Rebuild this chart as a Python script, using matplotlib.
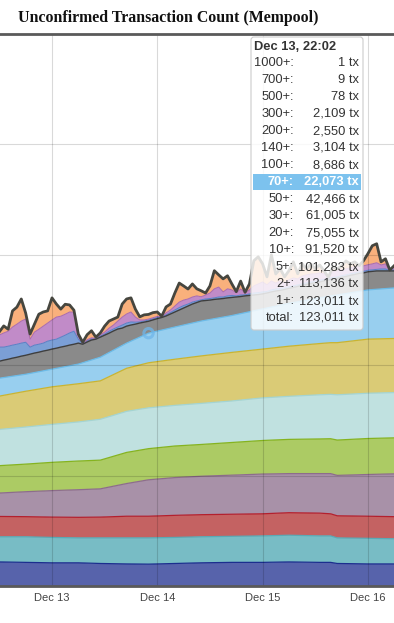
import matplotlib
matplotlib.use('Agg')
import matplotlib.pyplot as plt
from matplotlib.patches import Rectangle, FancyBboxPatch
import numpy as np

# hours since Dec 13 00:00, counts in thousands of tx
hours_slow = [-12, -6, 0, 6, 11, 17, 22, 28, 34, 41, 48, 54, 61, 63.5, 65, 72, 78]
band_1 = [10.9, 10.7, 10.5, 10.5, 10.2, 10.0, 9.9, 10.2, 10.5, 10.7, 10.7, 10.9, 10.7, 10.7, 10.2, 10.0, 10.0]
band_2 = [11.4, 11.6, 11.5, 11.3, 11.6, 11.8, 11.9, 11.8, 11.8, 11.8, 12.0, 12.1, 12.0, 12.0, 11.6, 11.6, 11.4]
band_5 = [9.2, 9.1, 9.2, 9.3, 9.4, 9.8, 9.8, 10.0, 10.0, 10.0, 10.0, 10.2, 10.3, 10.0, 10.0, 10.0, 10.0]
band_10 = [10.6, 11.3, 12.0, 12.5, 12.8, 14.8, 16.5, 17.1, 17.4, 17.7, 18.0, 17.7, 17.9, 18.2, 18.3, 18.9, 19.4]
band_20 = [12.4, 12.5, 12.8, 13.0, 13.0, 14.1, 14.1, 14.3, 14.4, 14.8, 15.2, 15.5, 15.7, 15.8, 16.0, 16.3, 16.3]
band_30 = [16.4, 16.8, 17.2, 17.7, 18.5, 18.6, 18.5, 18.4, 18.6, 18.8, 19.3, 19.5, 20.0, 20.1, 20.5, 20.5, 20.5]
band_50 = [15.1, 16.2, 17.0, 17.3, 17.4, 19.5, 20.4, 20.9, 21.5, 22.0, 22.1, 22.7, 23.2, 23.4, 23.6, 24.5, 24.5]
band_70 = [8.1, 7.7, 8.0, 8.9, 10.7, 11.4, 13.4, 14.6, 15.8, 16.7, 18.2, 19.4, 20.7, 21.2, 21.6, 22.3, 22.9]

lower_bands = [band_1, band_2, band_5, band_10, band_20, band_30, band_50, band_70]
lower_fill = ['#5763ab', '#78bcc5', '#c46262', '#a891a8', '#accb64', '#c0e1e0', '#dacb76', '#98cfef']
lower_line = ['#1b2e8e', '#5aa9b5', '#b3202e', '#8d6d8b', '#85b320', '#a4d4d2', '#c9b431', '#6bbbe8']

hours_fast = list(range(-12, 79))
below_140 = [101.8, 102.3, 102.7, 103.2, 103.6, 104.1, 104.5, 105.0, 105.5, 105.9,
             106.4, 106.8, 107.3, 107.7, 108.2, 108.6, 109.1, 109.5, 110.0, 109.5,
             110.5, 111.4, 111.8, 112.7, 113.6, 114.5, 115.5, 116.4, 116.8, 117.7,
             118.2, 118.6, 119.1, 119.5, 119.9, 120.5, 121.1, 121.6, 122.3, 123.2,
             124.1, 125.0, 125.9, 126.8, 127.7, 128.4, 129.1, 129.3, 129.5, 129.8,
             130.0, 130.2, 130.5, 130.7, 130.9, 131.1, 131.4, 131.6, 131.8, 132.0,
             132.3, 132.7, 133.2, 133.6, 133.9, 134.3, 134.8, 135.2, 135.7, 136.1,
             136.6, 137.0, 137.3, 137.7, 138.2, 138.6, 139.1, 139.3, 139.8, 140.2,
             140.7, 141.1, 141.6, 141.8, 142.3, 142.5, 142.7, 142.7, 142.7, 142.7,
             142.7]
band_140 = [6.4, 5.9, 5.9, 5.9, 5.9, 5.9, 5.9, 3.2, 3.6, 3.6,
            3.6, 4.1, 4.1, 4.1, 4.5, 5.0, 5.5, 5.9, 1.8, 0.2,
            0.5, 0.5, 0.2, 0.5, 0.5, 0.9, 0.9, 0.9, 1.4, 1.4,
            1.4, 0.9, 0.5, 0.5, 0.55, 0.5, 0.5, 0.2, 0.5, 0.7,
            0.9, 1.1, 1.1, 0.9, 0.9, 0.7, 0.5, 0.7, 0.7, 0.7,
            0.9, 0.7, 0.9, 0.9, 0.5, 0.7, 0.5, 0.7, 0.9, 0.9,
            0.9, 0.7, 0.9, 0.9, 0.9, 0.7, 0.7, 0.7, 0.7, 0.7,
            0.7, 0.7, 0.7, 0.7, 0.7, 0.5, 0.7, 0.7, 0.7, 0.7,
            0.7, 0.7, 0.7, 0.7, 0.7, 0.7, 0.7, 0.9, 0.9, 0.1,
            0.5]
band_200 = [5.5, 6.4, 6.8, 8.2, 9.1, 10.0, 10.5, 3.6, 5.9, 6.8,
            7.7, 8.2, 9.1, 10.0, 9.5, 9.5, 9.5, 8.6, 1.4, 0.2,
            0.5, 0.5, 0.2, 0.5, 0.9, 1.4, 1.8, 2.7, 3.6, 4.1,
            4.5, 2.3, 0.9, 0.5, 0.44, 0.5, 0.5, 0.2, 0.9, 1.1,
            1.8, 2.5, 2.5, 2.3, 2.3, 2.3, 1.4, 1.8, 2.5, 4.1,
            4.5, 2.3, 3.2, 2.5, 1.4, 2.7, 0.9, 1.8, 3.2, 3.9,
            4.5, 3.0, 4.1, 2.7, 3.4, 2.3, 3.2, 3.6, 2.7, 3.6,
            3.6, 3.6, 3.4, 3.4, 2.5, 0.5, 2.5, 2.7, 2.7, 2.7,
            2.7, 2.7, 2.3, 2.5, 2.5, 2.7, 3.0, 1.8, 2.3, 0.1,
            1.4]
band_300 = [1.4, 3.2, 0.9, 7.3, 7.7, 10.0, 2.7, 2.3, 3.6, 6.8,
            6.4, 5.5, 10.0, 5.9, 3.2, 4.5, 3.2, 0.9, 0.9, 0.5,
            2.3, 3.2, 0.5, 0.9, 2.7, 3.2, 2.7, 1.8, 5.9, 6.8,
            6.4, 3.6, 1.4, 2.3, 2.11, 2.3, 2.0, 0.2, 2.7, 2.7,
            5.9, 8.6, 6.4, 4.5, 5.9, 3.2, 2.7, 0.9, 3.2, 8.2,
            5.5, 5.9, 5.9, 2.7, 0.5, 3.6, 0.2, 2.7, 11.4, 12.3,
            8.2, 3.6, 11.8, 4.1, 5.5, 2.7, 4.1, 7.3, 2.3, 5.5,
            2.7, 4.5, 2.3, 3.6, 1.4, 0.2, 2.3, 0.9, 1.8, 3.6,
            1.8, 2.3, 0.5, 2.3, 5.0, 8.2, 8.6, 1.4, 2.3, 0.2,
            0.5]
upper_bands = [band_140, band_200, band_300]
upper_fill = ['#7b9fd6', '#c18bc8', '#f9b07c']
upper_line = ['#5a7ec4', '#a86aae', '#ee9259']

tick_hours = [0, 24, 48, 72]
tick_labels = ['Dec 13', 'Dec 14', 'Dec 15', 'Dec 16']
grid_levels = [50, 100, 150, 200, 250]

tip_title = 'Dec 13, 22:02'
tip_levels = ['1000+:', '700+:', '500+:', '300+:', '200+:', '140+:', '100+:', '70+:',
              '50+:', '30+:', '20+:', '10+:', '5+:', '2+:', '1+:', 'total:']
tip_counts = [1, 9, 78, 2109, 2550, 3104, 8686, 22073, 42466, 61005, 75055,
              91520, 101283, 113136, 123011, 123011]
tip_active = 7
tip_hour = 22

plt.rcParams['font.family'] = ['Liberation Sans', 'DejaVu Sans']

fig = plt.figure(figsize=(3.94, 6.23), dpi=100)
ax = fig.add_axes([0, 37 / 623, 1, 552 / 623])
ax.set_xlim(-52 / 4.3875, 342 / 4.3875)
ax.set_ylim(0, 250)

stack = np.cumsum(np.array(lower_bands), axis=0)
prev = np.zeros(len(hours_slow))
for top, fc, lc in zip(stack, lower_fill, lower_line):
    ax.fill_between(hours_slow, prev, top, color=fc, lw=0, zorder=2)
    ax.plot(hours_slow, top, color=lc, lw=0.9, zorder=3)
    prev = top

# gray band (100-140) sits between the slow stack and below_140
b8 = stack[-1]
gx = list(hours_fast) + list(hours_slow[::-1])
gy = list(below_140) + list(b8[::-1])
ax.fill(gx, gy, color='#8a8a8a', lw=0, zorder=2)

base = np.array(below_140)
for band, fc, lc in zip(upper_bands, upper_fill, upper_line):
    top = base + np.array(band)
    ax.fill_between(hours_fast, base, top, color=fc, lw=0, zorder=2)
    ax.plot(hours_fast, top, color=lc, lw=0.7, zorder=3)
    base = top
ax.plot(hours_fast, below_140, color='#3e3e3e', lw=1.0, zorder=3)
ax.plot(hours_fast, base, color='#46463f', lw=2.0, zorder=4, solid_joinstyle='round')

# grid drawn faintly over the areas
for h in tick_hours:
    ax.axvline(h, color=(0, 0, 0, 0.15), lw=0.8, zorder=3.5)
for g in grid_levels:
    ax.axhline(g, color=(0, 0, 0, 0.15), lw=0.8, zorder=3.5)

i22 = hours_slow.index(tip_hour)
ax.scatter([tip_hour], [b8[i22]], s=45, facecolor='none', edgecolor='#6fb6ea',
           lw=2.2, alpha=0.75, zorder=5)

ax.set_xticks(tick_hours, tick_labels)
ax.tick_params(axis='x', length=0, pad=5, labelsize=8, labelcolor='#444')
ax.set_yticks([])
for s in ['left', 'right']:
    ax.spines[s].set_visible(False)
for s in ['top', 'bottom']:
    ax.spines[s].set_color('#5a5a5a')
    ax.spines[s].set_linewidth(2.0)
    ax.spines[s].set_zorder(6)

# overlay in pixel coordinates for title and tooltip
ov = fig.add_axes([0, 0, 1, 1])
ov.set_xlim(0, 394)
ov.set_ylim(623, 0)
ov.axis('off')
ov.text(18, 18, 'Unconfirmed Transaction Count (Mempool)', family=['Liberation Serif', 'DejaVu Serif'],
        weight='bold', fontsize=11.4, va='center', ha='left', color='#111')

ov.add_patch(FancyBboxPatch((251, 37), 112, 293, boxstyle='round,pad=0,rounding_size=3',
                            fc=(1, 1, 1, 0.82), ec='#cccccc', lw=0.8))
ov.text(254, 47, tip_title, weight='bold', fontsize=9.3, va='center', ha='left', color='#333')
for i, (lab, cnt) in enumerate(zip(tip_levels, tip_counts)):
    y = 63 + 17 * i
    active = i == tip_active
    if active:
        ov.add_patch(Rectangle((253, y - 8), 108, 16, fc='#7cc2ee', lw=0))
    col = 'white' if active else '#333'
    wt = 'bold' if active else 'normal'
    ov.text(294, y, lab, ha='right', va='center', fontsize=9.3, color=col, weight=wt)
    ov.text(359, y, f'{cnt:,} tx', ha='right', va='center', fontsize=9.3, color=col, weight=wt)

fig.savefig('out.png', dpi=100)
